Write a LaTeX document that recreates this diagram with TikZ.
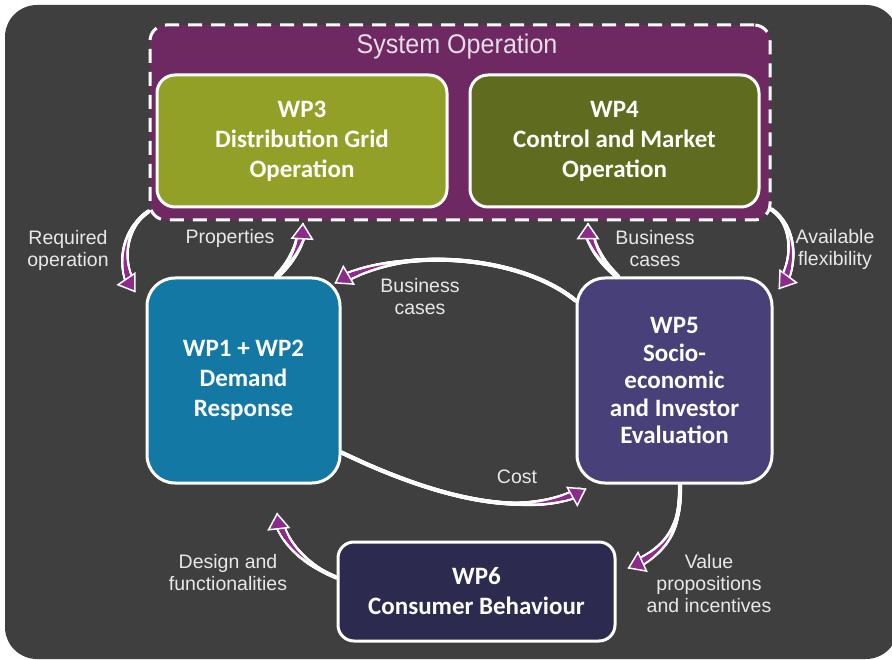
\documentclass[tikz,border=0pt]{standalone}
\usepackage{fontspec}
\setmainfont{Liberation Sans}
\newfontfamily\boxfont{Carlito}
\newfontfamily\titlefont[FakeStretch=0.93]{Liberation Sans}
\usetikzlibrary{arrows.meta,decorations.markings,calc}
\definecolor{bgdark}{HTML}{3F3F3F}
\definecolor{sysfill}{HTML}{6E2862}
\definecolor{wpthree}{HTML}{93A028}
\definecolor{wpfour}{HTML}{5F6B1E}
\definecolor{wpone}{HTML}{1478A5}
\definecolor{wpfive}{HTML}{484078}
\definecolor{wpsix}{HTML}{2D2A50}
\definecolor{arrowpurple}{HTML}{8E2A8C}
\definecolor{labelgray}{HTML}{E8E8E8}
\definecolor{titlegray}{HTML}{E6DCE6}
\newcommand\flowarrow[4]{%
  \path[flow] (#1) .. controls (#2) and (#3) .. (#4);
  \draw[tipdraw] ($(#4)!0.5pt!(#3)$) -- (#4);}
\begin{document}
\begin{tikzpicture}[x=1pt,y=-1pt,
  wpbox/.style={draw=white, line width=3pt, inner sep=0pt, align=center, text=white,
    font=\boxfont\bfseries\fontsize{25}{30}\selectfont},
  sysbox/.style={fill=sysfill, draw=white, line width=3pt, dash pattern=on 14pt off 9pt, rounded corners=16pt},
  lbl/.style={text=labelgray, font=\fontsize{19.5}{22}\selectfont, align=center, inner sep=0pt},
  whitebody/.style={postaction={decorate, decoration={markings,
    mark=between positions 0 and -11pt step 0.5pt with {%
      \pgfmathsetmacro\dfe{\pgfdecoratedpathlength-\pgfkeysvalueof{/pgf/decoration/mark info/distance from start}}%
      \pgfmathsetmacro\rr{2.1+3.4*max(0,1-\dfe/75)}%
      \fill[white] (0,0) circle[radius=\rr pt];}}}},
  purplebody/.style={postaction={decorate, decoration={markings,
    mark=between positions 0 and -11pt step 0.5pt with {%
      \pgfmathsetmacro\dfe{\pgfdecoratedpathlength-\pgfkeysvalueof{/pgf/decoration/mark info/distance from start}}%
      \pgfmathsetmacro\LL{min(60,0.65*\pgfdecoratedpathlength)}%
      \pgfmathsetmacro\rr{3.6*max(0,1-\dfe/\LL)}%
      \fill[arrowpurple] (0,0) circle[radius=\rr pt];}}}},
  flow/.style={whitebody, purplebody},
  tipdraw/.style={draw=white, line width=1.5pt, -{Triangle[length=17pt,width=23pt,fill=arrowpurple]}}
]
\useasboundingbox (0,0) rectangle (892,660);
\fill[white] (0,0) rectangle (892,660);
\fill[bgdark, rounded corners=32pt] (5,5) rectangle (898,659);

% System operation frame
\node[sysbox, minimum width=620pt, minimum height=195pt] (sys) at (460,122.5) {};
\node[text=titlegray, font=\titlefont\fontsize{27}{30}\selectfont, inner sep=0pt] (systitle) at (457,47) {System Operation};

% Work package boxes
\node[wpbox, fill=wpthree, rounded corners=18pt, minimum width=290pt, minimum height=132pt] (wp3) at (302,141)
  {WP3\\Distribution Grid\\Operation};
\node[wpbox, fill=wpfour, rounded corners=18pt, minimum width=289pt, minimum height=132pt] (wp4) at (614.5,141)
  {WP4\\Control and Market\\Operation};
\node[wpbox, fill=wpone, rounded corners=28pt, minimum width=193pt, minimum height=205pt] (wp1) at (243.5,380.5)
  {WP1 + WP2\\Demand\\Response};
\node[wpbox, fill=wpfive, rounded corners=28pt, minimum width=195pt, minimum height=205pt,
  font=\boxfont\bfseries\fontsize{25}{27.5}\selectfont] (wp5) at (674.5,380.5)
  {WP5\\Socio-\\economic\\and Investor\\Evaluation};
\node[wpbox, fill=wpsix, rounded corners=16pt, minimum width=277pt, minimum height=99pt] (wp6) at (476.5,591.5)
  {WP6\\Consumer Behaviour};

% Connector end points
\coordinate (s1) at ([yshift=10pt]sys.south west);
\coordinate (e1) at ([xshift=-10pt,yshift=-16pt]wp1.north west);
\coordinate (s2) at ([xshift=33pt]wp1.north);
\coordinate (e2) at ([xshift=-157pt,yshift=-1pt]sys.south);
\coordinate (s3) at ([xshift=-57pt]wp5.north);
\coordinate (e3) at ([xshift=128pt,yshift=-1pt]sys.south);
\coordinate (s4) at ([yshift=12pt]sys.south east);
\coordinate (e4) at ([xshift=5pt,yshift=-13pt]wp5.north east);
\coordinate (s5) at ([yshift=80pt]wp5.west);
\coordinate (e5) at ([xshift=-7pt,yshift=-7pt]wp1.north east);
\coordinate (s6) at ([yshift=-72pt]wp1.east);
\coordinate (e6) at ([xshift=11pt,yshift=-4pt]wp5.south west);
\coordinate (s7) at ([xshift=5.5pt]wp5.south);
\coordinate (e7) at ([xshift=11pt,yshift=23pt]wp6.east);
\coordinate (s8) at ([yshift=14pt]wp6.west);
\coordinate (e8) at ([xshift=33.5pt,yshift=-28pt]wp1.south);

% Connectors
\flowarrow{s1}{124,228}{117,265}{e1}
\flowarrow{s2}{292,262}{302,242}{e2}
\flowarrow{s3}{601,262}{588,242}{e3}
\flowarrow{s4}{796,226}{796,266}{e4}
\flowarrow{s5}{520,255}{400,245}{e5}
\flowarrow{s6}{440,500}{530,520}{e6}
\flowarrow{s7}{681,530}{666,551}{e7}
\flowarrow{s8}{305,565}{280,540}{e8}

% Labels
\node[lbl] (lreq) at (68,250.5) {Required\\operation};
\node[lbl] (lprop) at (230,238) {Properties};
\node[lbl] (lbusa) at (655,249) {Business\\cases};
\node[lbl] (lavail) at (835,249) {Available\\flexibility};
\node[lbl] (lbusb) at (420,297) {Business\\cases};
\node[lbl] (lcost) at (517,477) {Cost};
\node[lbl] (ldesign) at (228,573) {Design and\\functionalities};
\node[lbl] (lvalue) at (709,584) {Value\\propositions\\and incentives};
\end{tikzpicture}
\end{document}
